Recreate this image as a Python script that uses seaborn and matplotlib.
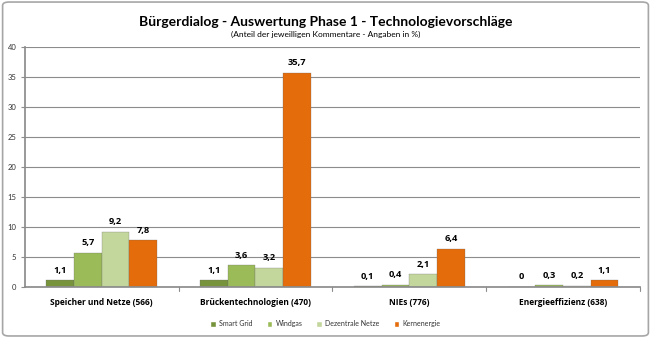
import matplotlib
matplotlib.use("Agg")
import matplotlib.pyplot as plt
import seaborn as sns
import pandas as pd
from matplotlib.patches import FancyBboxPatch

categories = ["Speicher und Netze (566)", "Brückentechnologien (470)", "NIEs (776)", "Energieeffizienz (638)"]
series = ["Smart Grid", "Windgas", "Dezentrale Netze", "Kernenergie"]
smart_grid = [1.1, 1.1, 0.1, 0]
windgas = [5.7, 3.6, 0.4, 0.3]
dezentrale = [9.2, 3.2, 2.1, 0.2]
kernenergie = [7.8, 35.7, 6.4, 1.1]
colors = ["#77933C", "#9BBB59", "#C3D69B", "#E46C0A"]
yticks = [0, 5, 10, 15, 20, 25, 30, 35, 40]

rows = []
for s, vals in zip(series, [smart_grid, windgas, dezentrale, kernenergie]):
    for c, v in zip(categories, vals):
        rows.append({"Kategorie": c, "Serie": s, "Wert": v})
df = pd.DataFrame(rows)

sns.set_theme(style="white")
plt.rcParams["font.family"] = ["Lato", "DejaVu Sans"]
BOLD = ["Open Sans", "DejaVu Sans"]

fig = plt.figure(figsize=(6.51, 3.38), dpi=100)
fig.patch.set_facecolor("white")
border = FancyBboxPatch((0.004, 0.006), 0.992, 0.988, boxstyle="round,pad=0,rounding_size=0.01",
                        transform=fig.transFigure, fill=False, edgecolor="#A6A6A6", linewidth=1.2)
fig.patches.append(border)

ax = fig.add_axes([0.038, 0.151, 0.945, 0.710])
sns.barplot(data=df, x="Kategorie", y="Wert", hue="Serie", palette=colors, order=categories,
            hue_order=series, width=0.72, ax=ax, legend=True, saturation=1)

for cont, s in zip(ax.containers, series):
    for bar in cont:
        bar.set_edgecolor("#6b6b6b")
        bar.set_linewidth(0.2)
    labels = [("%g" % v).replace(".", ",") for v in cont.datavalues]
    ax.bar_label(cont, labels=labels, padding=4, fontsize=6.7, fontweight="bold",
                 family=BOLD, color="black")

ax.set_ylim(0, 40)
ax.set_yticks(yticks)
ax.set_yticklabels([str(t) for t in yticks], fontsize=5.5, color="#333333")
ax.set_xlim(-0.5, 3.5)
ax.set_xticks(range(len(categories)))
ax.set_xticklabels(categories, fontsize=6.0, fontweight="bold", family=BOLD, color="black")
ax.set_xlabel("")
ax.set_ylabel("")
ax.yaxis.grid(True, color="#8C8C8C", linewidth=0.8)
ax.set_axisbelow(True)
for side in ["top", "right"]:
    ax.spines[side].set_visible(False)
ax.spines["left"].set_color("#8C8C8C")
ax.spines["bottom"].set_color("#8C8C8C")
ax.tick_params(axis="y", length=3, width=0.8, color="#8C8C8C", pad=3, left=True)
ax.tick_params(axis="x", length=0, pad=8)
for xb in [0.5, 1.5, 2.5, 3.5]:
    ax.plot([xb, xb], [0, -0.6], color="#8C8C8C", linewidth=0.8, clip_on=False,
            transform=ax.transData)

handles, labs = ax.get_legend_handles_labels()
ax.get_legend().remove()
leg = fig.legend(handles, labs, loc="center", bbox_to_anchor=(0.5, 0.042), ncol=4, frameon=False,
                 fontsize=5, handlelength=0.8, handleheight=0.8, columnspacing=2.0, handletextpad=0.5)
for t in leg.get_texts():
    t.set_color("#333333")

fig.text(0.5, 0.935, "Bürgerdialog - Auswertung Phase 1 - Technologievorschläge",
         ha="center", va="center", fontsize=10, fontweight="bold", color="black")
fig.text(0.5, 0.898, "(Anteil der jeweilligen Kommentare - Angaben in %)",
         ha="center", va="center", fontsize=6, color="black")

fig.savefig("out.png", dpi=100, facecolor="white")
